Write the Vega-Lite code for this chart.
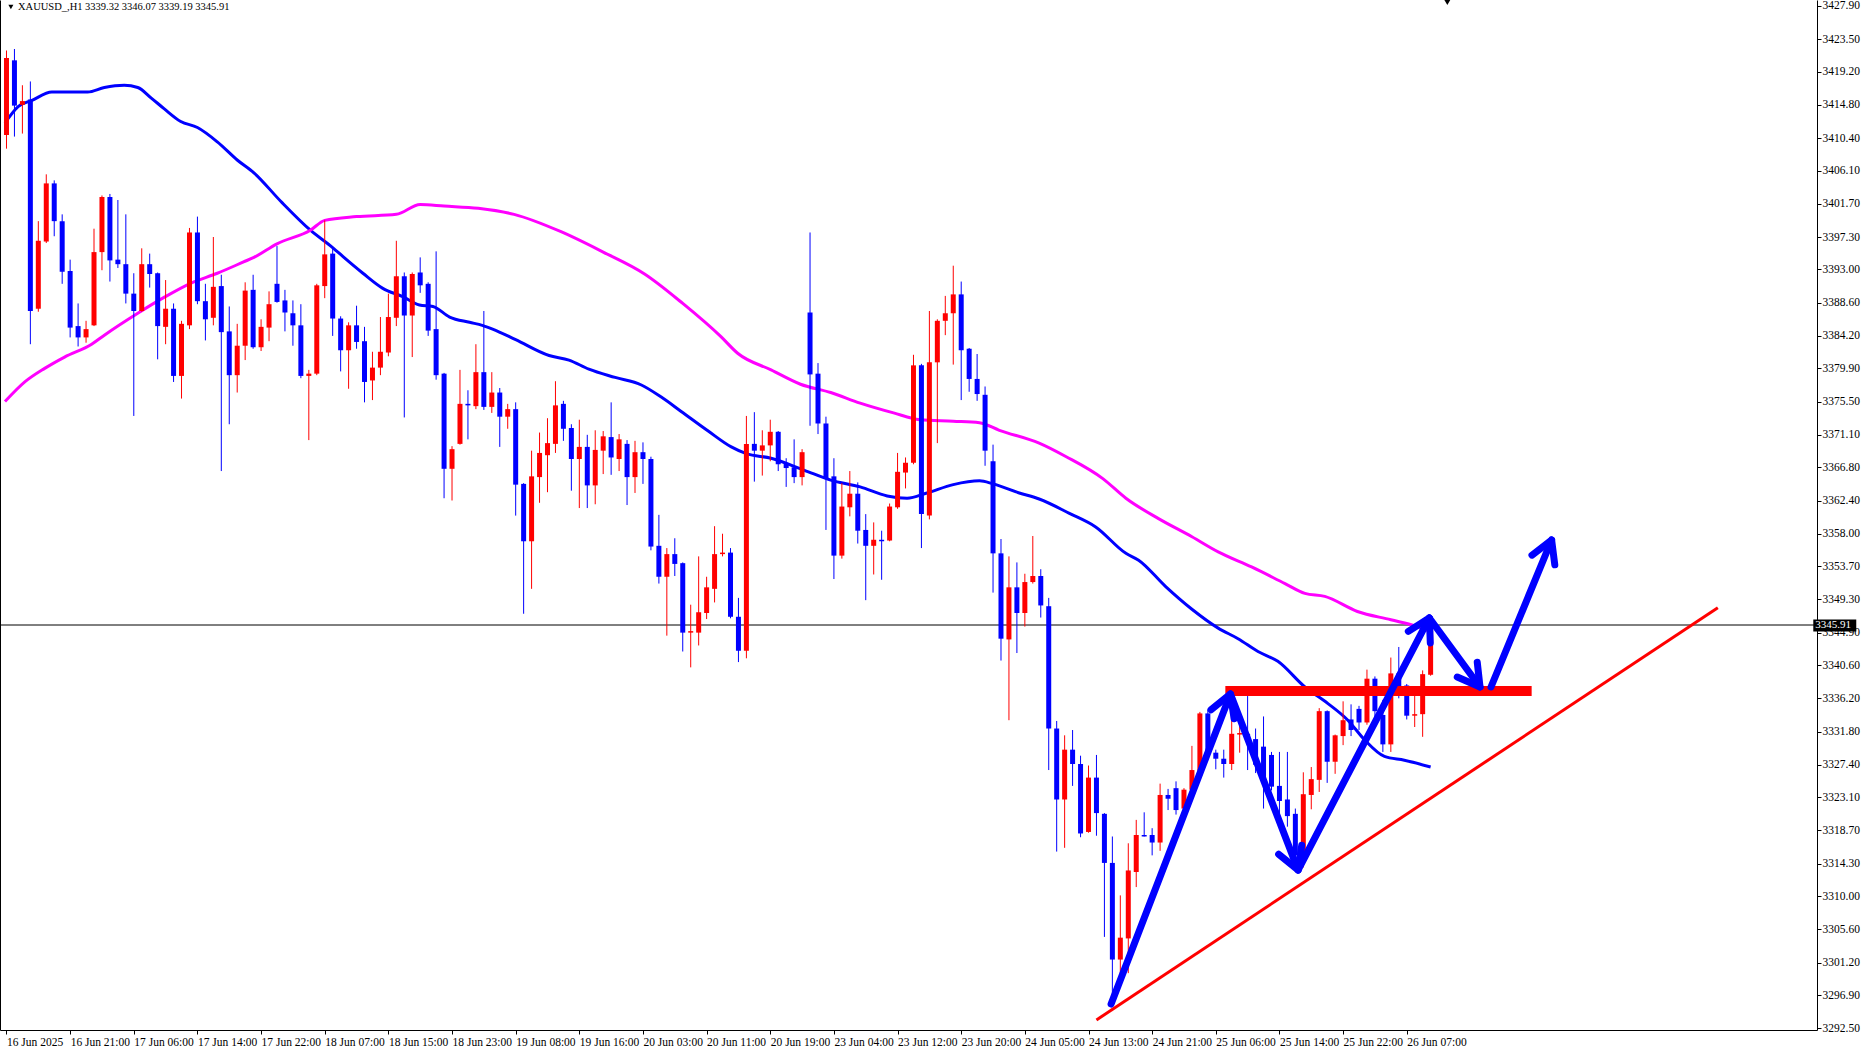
{
 "$schema": "https://vega.github.io/schema/vega-lite/v6.json",
 "width": 1817,
 "height": 1030,
 "autosize": {"type": "none"},
 "padding": {"left": 0, "top": 0, "right": 49, "bottom": 25},
 "background": "white",
 "config": {
  "view": {"stroke": null},
  "font": "Liberation Sans Narrow",
  "axis": {"labelFont": "Liberation Sans Narrow", "labelFontSize": 11.5, "labelColor": "black", "tickColor": "black", "domainColor": "black", "grid": false, "title": null}
 },
 "datasets": {
  "candles": [
   {"i":0,"o":3410.8,"h":3422.0,"l":3409.0,"c":3421.0},
   {"i":1,"o":3420.7,"h":3422.2,"l":3410.6,"c":3414.7},
   {"i":2,"o":3414.8,"h":3417.4,"l":3411.0,"c":3415.3},
   {"i":3,"o":3415.5,"h":3417.9,"l":3383.1,"c":3387.5},
   {"i":4,"o":3387.8,"h":3399.4,"l":3387.4,"c":3396.8},
   {"i":5,"o":3396.7,"h":3405.6,"l":3396.5,"c":3404.4},
   {"i":6,"o":3404.4,"h":3404.8,"l":3397.4,"c":3399.4},
   {"i":7,"o":3399.4,"h":3400.3,"l":3391.1,"c":3392.7},
   {"i":8,"o":3392.8,"h":3394.3,"l":3384.0,"c":3385.3},
   {"i":9,"o":3385.5,"h":3388.5,"l":3382.8,"c":3384.0},
   {"i":10,"o":3384.0,"h":3386.2,"l":3383.3,"c":3385.1},
   {"i":11,"o":3385.6,"h":3398.4,"l":3385.5,"c":3395.3},
   {"i":12,"o":3395.3,"h":3402.8,"l":3392.9,"c":3402.6},
   {"i":13,"o":3402.6,"h":3403.0,"l":3391.4,"c":3394.2},
   {"i":14,"o":3394.3,"h":3402.2,"l":3393.2,"c":3393.7},
   {"i":15,"o":3393.7,"h":3400.3,"l":3388.5,"c":3389.8},
   {"i":16,"o":3389.8,"h":3392.5,"l":3373.6,"c":3387.5},
   {"i":17,"o":3387.5,"h":3395.8,"l":3387.4,"c":3393.7},
   {"i":18,"o":3393.7,"h":3395.1,"l":3390.6,"c":3392.4},
   {"i":19,"o":3392.5,"h":3392.6,"l":3381.1,"c":3385.5},
   {"i":20,"o":3385.4,"h":3391.6,"l":3383.1,"c":3387.8},
   {"i":21,"o":3387.8,"h":3388.5,"l":3378.1,"c":3378.9},
   {"i":22,"o":3378.9,"h":3386.2,"l":3375.9,"c":3385.8},
   {"i":23,"o":3385.6,"h":3398.5,"l":3385.1,"c":3397.9},
   {"i":24,"o":3397.9,"h":3400.0,"l":3388.4,"c":3388.8},
   {"i":25,"o":3388.8,"h":3391.1,"l":3383.6,"c":3386.4},
   {"i":26,"o":3386.6,"h":3397.3,"l":3385.6,"c":3390.7},
   {"i":27,"o":3390.8,"h":3392.3,"l":3366.3,"c":3384.7},
   {"i":28,"o":3384.8,"h":3388.1,"l":3372.5,"c":3379.0},
   {"i":29,"o":3379.0,"h":3385.8,"l":3376.7,"c":3382.9},
   {"i":30,"o":3382.9,"h":3391.3,"l":3381.0,"c":3390.2},
   {"i":31,"o":3390.3,"h":3392.3,"l":3382.5,"c":3382.7},
   {"i":32,"o":3382.7,"h":3386.4,"l":3382.2,"c":3385.4},
   {"i":33,"o":3385.3,"h":3390.1,"l":3383.5,"c":3388.4},
   {"i":34,"o":3391.1,"h":3396.1,"l":3388.6,"c":3388.7},
   {"i":35,"o":3388.9,"h":3390.3,"l":3384.8,"c":3387.3},
   {"i":36,"o":3387.2,"h":3388.9,"l":3382.9,"c":3385.6},
   {"i":37,"o":3385.6,"h":3388.4,"l":3378.6,"c":3378.9},
   {"i":38,"o":3378.9,"h":3379.7,"l":3370.4,"c":3379.2},
   {"i":39,"o":3379.2,"h":3391.1,"l":3379.0,"c":3390.9},
   {"i":40,"o":3390.8,"h":3399.5,"l":3389.2,"c":3395.0},
   {"i":41,"o":3395.1,"h":3396.0,"l":3384.2,"c":3386.5},
   {"i":42,"o":3386.5,"h":3386.8,"l":3379.5,"c":3382.3},
   {"i":43,"o":3382.3,"h":3386.0,"l":3377.2,"c":3385.6},
   {"i":44,"o":3385.6,"h":3388.2,"l":3382.5,"c":3383.4},
   {"i":45,"o":3383.5,"h":3385.4,"l":3375.4,"c":3378.1},
   {"i":46,"o":3378.3,"h":3382.1,"l":3375.7,"c":3380.0},
   {"i":47,"o":3380.0,"h":3386.7,"l":3379.0,"c":3382.1},
   {"i":48,"o":3382.0,"h":3389.8,"l":3381.5,"c":3386.7},
   {"i":49,"o":3386.6,"h":3396.8,"l":3385.5,"c":3392.1},
   {"i":50,"o":3392.1,"h":3392.6,"l":3373.4,"c":3386.9},
   {"i":51,"o":3386.9,"h":3392.6,"l":3381.4,"c":3392.4},
   {"i":52,"o":3392.6,"h":3394.6,"l":3389.9,"c":3390.9},
   {"i":53,"o":3391.1,"h":3391.3,"l":3384.2,"c":3384.9},
   {"i":54,"o":3385.1,"h":3395.4,"l":3378.4,"c":3379.0},
   {"i":55,"o":3379.2,"h":3379.3,"l":3362.7,"c":3366.6},
   {"i":56,"o":3366.6,"h":3369.6,"l":3362.4,"c":3369.2},
   {"i":57,"o":3369.9,"h":3379.7,"l":3369.8,"c":3375.2},
   {"i":58,"o":3375.2,"h":3377.0,"l":3370.5,"c":3375.0},
   {"i":59,"o":3374.9,"h":3383.1,"l":3374.5,"c":3379.4},
   {"i":60,"o":3379.4,"h":3387.5,"l":3374.4,"c":3374.8},
   {"i":61,"o":3374.8,"h":3379.4,"l":3374.0,"c":3376.7},
   {"i":62,"o":3376.7,"h":3377.3,"l":3369.5,"c":3373.5},
   {"i":63,"o":3373.5,"h":3375.2,"l":3371.9,"c":3374.5},
   {"i":64,"o":3374.5,"h":3375.4,"l":3360.4,"c":3364.5},
   {"i":65,"o":3364.6,"h":3364.7,"l":3347.4,"c":3357.0},
   {"i":66,"o":3357.0,"h":3369.0,"l":3350.7,"c":3365.6},
   {"i":67,"o":3365.5,"h":3371.4,"l":3362.1,"c":3368.7},
   {"i":68,"o":3368.4,"h":3373.3,"l":3363.5,"c":3370.0},
   {"i":69,"o":3369.9,"h":3378.2,"l":3368.7,"c":3375.0},
   {"i":70,"o":3375.2,"h":3375.6,"l":3370.3,"c":3371.9},
   {"i":71,"o":3372.0,"h":3372.5,"l":3363.7,"c":3367.9},
   {"i":72,"o":3367.9,"h":3373.1,"l":3361.4,"c":3369.5},
   {"i":73,"o":3369.5,"h":3371.1,"l":3361.4,"c":3364.4},
   {"i":74,"o":3364.4,"h":3371.7,"l":3361.9,"c":3369.1},
   {"i":75,"o":3369.0,"h":3371.6,"l":3365.9,"c":3370.9},
   {"i":76,"o":3370.8,"h":3375.4,"l":3365.8,"c":3368.1},
   {"i":77,"o":3367.9,"h":3371.2,"l":3366.3,"c":3370.5},
   {"i":78,"o":3369.9,"h":3370.4,"l":3361.8,"c":3365.5},
   {"i":79,"o":3365.5,"h":3370.3,"l":3363.4,"c":3368.8},
   {"i":80,"o":3368.8,"h":3370.1,"l":3364.6,"c":3367.9},
   {"i":81,"o":3367.9,"h":3368.2,"l":3355.8,"c":3356.3},
   {"i":82,"o":3356.4,"h":3360.5,"l":3351.4,"c":3352.3},
   {"i":83,"o":3352.3,"h":3356.1,"l":3344.5,"c":3355.3},
   {"i":84,"o":3355.3,"h":3357.4,"l":3352.4,"c":3354.0},
   {"i":85,"o":3354.1,"h":3354.2,"l":3342.4,"c":3344.9},
   {"i":86,"o":3344.9,"h":3348.6,"l":3340.3,"c":3345.1},
   {"i":87,"o":3344.9,"h":3355.0,"l":3343.2,"c":3347.6},
   {"i":88,"o":3347.5,"h":3352.3,"l":3346.7,"c":3350.9},
   {"i":89,"o":3350.7,"h":3359.0,"l":3348.9,"c":3355.3},
   {"i":90,"o":3355.3,"h":3358.0,"l":3355.0,"c":3355.5},
   {"i":91,"o":3355.5,"h":3356.1,"l":3346.8,"c":3347.0},
   {"i":92,"o":3347.0,"h":3349.5,"l":3341.0,"c":3342.5},
   {"i":93,"o":3342.5,"h":3373.6,"l":3341.5,"c":3369.9},
   {"i":94,"o":3369.9,"h":3374.1,"l":3364.9,"c":3369.0},
   {"i":95,"o":3369.0,"h":3371.7,"l":3365.7,"c":3369.7},
   {"i":96,"o":3369.7,"h":3373.1,"l":3367.6,"c":3371.5},
   {"i":97,"o":3371.5,"h":3371.6,"l":3366.3,"c":3367.2},
   {"i":98,"o":3367.3,"h":3368.0,"l":3364.2,"c":3366.7},
   {"i":99,"o":3366.8,"h":3370.5,"l":3364.7,"c":3365.5},
   {"i":100,"o":3365.5,"h":3369.2,"l":3364.4,"c":3368.8},
   {"i":101,"o":3387.3,"h":3397.9,"l":3372.3,"c":3379.1},
   {"i":102,"o":3379.2,"h":3380.6,"l":3371.2,"c":3372.6},
   {"i":103,"o":3372.6,"h":3373.5,"l":3358.5,"c":3365.3},
   {"i":104,"o":3365.6,"h":3368.0,"l":3352.0,"c":3355.1},
   {"i":105,"o":3355.1,"h":3364.7,"l":3354.7,"c":3361.6},
   {"i":106,"o":3361.5,"h":3366.3,"l":3360.3,"c":3363.3},
   {"i":107,"o":3363.3,"h":3364.8,"l":3356.7,"c":3358.4},
   {"i":108,"o":3358.5,"h":3360.6,"l":3349.2,"c":3356.4},
   {"i":109,"o":3356.4,"h":3359.5,"l":3352.6,"c":3357.2},
   {"i":110,"o":3357.2,"h":3358.4,"l":3351.9,"c":3357.0},
   {"i":111,"o":3357.1,"h":3362.0,"l":3357.0,"c":3361.6},
   {"i":112,"o":3361.5,"h":3368.7,"l":3361.3,"c":3366.2},
   {"i":113,"o":3366.1,"h":3368.1,"l":3364.0,"c":3367.4},
   {"i":114,"o":3367.4,"h":3381.7,"l":3367.2,"c":3380.3},
   {"i":115,"o":3380.3,"h":3380.5,"l":3356.1,"c":3360.6},
   {"i":116,"o":3360.4,"h":3387.5,"l":3359.9,"c":3380.7},
   {"i":117,"o":3380.7,"h":3386.4,"l":3370.0,"c":3386.2},
   {"i":118,"o":3386.2,"h":3389.5,"l":3384.3,"c":3387.2},
   {"i":119,"o":3387.2,"h":3393.5,"l":3380.4,"c":3389.7},
   {"i":120,"o":3389.7,"h":3391.4,"l":3375.7,"c":3382.3},
   {"i":121,"o":3382.5,"h":3382.6,"l":3376.8,"c":3378.5},
   {"i":122,"o":3378.5,"h":3381.8,"l":3375.6,"c":3376.5},
   {"i":123,"o":3376.4,"h":3377.5,"l":3367.0,"c":3369.0},
   {"i":124,"o":3367.6,"h":3369.8,"l":3350.2,"c":3355.4},
   {"i":125,"o":3355.4,"h":3357.3,"l":3341.2,"c":3344.1},
   {"i":126,"o":3344.0,"h":3355.0,"l":3333.3,"c":3350.9},
   {"i":127,"o":3350.9,"h":3354.2,"l":3342.2,"c":3347.5},
   {"i":128,"o":3347.5,"h":3352.7,"l":3345.7,"c":3351.6},
   {"i":129,"o":3351.6,"h":3357.7,"l":3351.4,"c":3352.4},
   {"i":130,"o":3352.4,"h":3353.3,"l":3346.9,"c":3348.5},
   {"i":131,"o":3348.4,"h":3349.5,"l":3326.7,"c":3332.2},
   {"i":132,"o":3332.2,"h":3333.2,"l":3315.9,"c":3322.8},
   {"i":133,"o":3322.8,"h":3331.3,"l":3316.4,"c":3329.4},
   {"i":134,"o":3329.4,"h":3332.0,"l":3324.6,"c":3327.5},
   {"i":135,"o":3327.5,"h":3328.6,"l":3317.8,"c":3318.3},
   {"i":136,"o":3318.5,"h":3327.3,"l":3318.4,"c":3325.7},
   {"i":137,"o":3325.7,"h":3328.7,"l":3318.0,"c":3321.0},
   {"i":138,"o":3320.9,"h":3321.0,"l":3304.6,"c":3314.4},
   {"i":139,"o":3314.4,"h":3317.9,"l":3296.2,"c":3301.6},
   {"i":140,"o":3301.6,"h":3310.1,"l":3299.8,"c":3304.5},
   {"i":141,"o":3304.4,"h":3317.0,"l":3299.8,"c":3313.4},
   {"i":142,"o":3313.2,"h":3320.1,"l":3311.2,"c":3318.1},
   {"i":143,"o":3318.1,"h":3321.1,"l":3317.9,"c":3317.9},
   {"i":144,"o":3318.1,"h":3319.0,"l":3315.4,"c":3317.1},
   {"i":145,"o":3317.1,"h":3324.9,"l":3316.0,"c":3323.4},
   {"i":146,"o":3323.4,"h":3324.2,"l":3321.4,"c":3322.9},
   {"i":147,"o":3324.3,"h":3325.2,"l":3320.8,"c":3321.4},
   {"i":148,"o":3321.6,"h":3324.3,"l":3321.4,"c":3324.1},
   {"i":149,"o":3324.1,"h":3329.9,"l":3323.8,"c":3326.7},
   {"i":150,"o":3326.6,"h":3334.4,"l":3326.5,"c":3334.2},
   {"i":151,"o":3334.2,"h":3334.7,"l":3328.0,"c":3328.9},
   {"i":152,"o":3329.0,"h":3329.4,"l":3326.8,"c":3328.2},
   {"i":153,"o":3328.2,"h":3329.4,"l":3325.7,"c":3327.5},
   {"i":154,"o":3327.5,"h":3333.5,"l":3326.7,"c":3331.5},
   {"i":155,"o":3331.4,"h":3333.0,"l":3329.0,"c":3331.6},
   {"i":156,"o":3331.5,"h":3336.5,"l":3326.7,"c":3330.7},
   {"i":157,"o":3330.8,"h":3332.2,"l":3326.3,"c":3327.4},
   {"i":158,"o":3329.8,"h":3333.8,"l":3321.6,"c":3325.0},
   {"i":159,"o":3328.7,"h":3329.1,"l":3324.0,"c":3324.5},
   {"i":160,"o":3324.6,"h":3329.1,"l":3320.4,"c":3322.6},
   {"i":161,"o":3322.8,"h":3329.1,"l":3319.2,"c":3320.6},
   {"i":162,"o":3320.9,"h":3321.6,"l":3313.5,"c":3315.4},
   {"i":163,"o":3315.2,"h":3326.4,"l":3313.8,"c":3323.5},
   {"i":164,"o":3323.4,"h":3327.1,"l":3321.5,"c":3325.5},
   {"i":165,"o":3325.4,"h":3334.9,"l":3323.8,"c":3334.5},
   {"i":166,"o":3334.5,"h":3334.6,"l":3325.0,"c":3327.8},
   {"i":167,"o":3327.8,"h":3331.4,"l":3326.2,"c":3331.3},
   {"i":168,"o":3331.2,"h":3335.8,"l":3330.0,"c":3333.3},
   {"i":169,"o":3333.4,"h":3335.4,"l":3331.2,"c":3332.0},
   {"i":170,"o":3334.8,"h":3335.2,"l":3332.0,"c":3333.0},
   {"i":171,"o":3333.0,"h":3340.0,"l":3332.7,"c":3338.8},
   {"i":172,"o":3338.8,"h":3339.1,"l":3333.0,"c":3334.5},
   {"i":173,"o":3334.0,"h":3336.0,"l":3329.1,"c":3330.1},
   {"i":174,"o":3330.1,"h":3341.6,"l":3329.1,"c":3339.5},
   {"i":175,"o":3339.5,"h":3343.0,"l":3336.2,"c":3337.7},
   {"i":176,"o":3337.9,"h":3338.1,"l":3333.4,"c":3333.9},
   {"i":177,"o":3333.9,"h":3337.8,"l":3332.4,"c":3334.1},
   {"i":178,"o":3334.1,"h":3339.9,"l":3331.1,"c":3339.4},
   {"i":179,"o":3339.32,"h":3346.07,"l":3339.19,"c":3345.91}
  ],
  "ma": [
   {"s":"b","i":-0.19,"p":3412.4},{"s":"b","i":1.5,"p":3414.6},{"s":"b","i":3.2,"p":3415.4},{"s":"b","i":5.7,"p":3416.5},{"s":"b","i":10.2,"p":3416.5},{"s":"b","i":12.3,"p":3417.1},{"s":"b","i":14.8,"p":3417.4},{"s":"b","i":16.5,"p":3417.1},{"s":"b","i":18.2,"p":3415.7},{"s":"b","i":19.8,"p":3414.3},{"s":"b","i":21.9,"p":3412.6},{"s":"b","i":24,"p":3411.8},{"s":"b","i":26.5,"p":3409.9},{"s":"b","i":29,"p":3407.5},{"s":"b","i":31.1,"p":3405.8},{"s":"b","i":34.5,"p":3402.0},{"s":"b","i":38.2,"p":3398.2},{"s":"b","i":41.1,"p":3395.8},{"s":"b","i":42.3,"p":3394.7},{"s":"b","i":44.8,"p":3392.5},{"s":"b","i":47.3,"p":3390.5},{"s":"b","i":49.8,"p":3389.4},{"s":"b","i":51.9,"p":3388.3},{"s":"b","i":53.6,"p":3388.1},{"s":"b","i":55.7,"p":3386.7},{"s":"b","i":58.2,"p":3386.0},{"s":"b","i":59.8,"p":3385.6},{"s":"b","i":61.1,"p":3385.1},{"s":"b","i":64,"p":3383.7},{"s":"b","i":68.2,"p":3381.6},{"s":"b","i":70.7,"p":3381.0},{"s":"b","i":73.2,"p":3379.8},{"s":"b","i":76.5,"p":3378.7},{"s":"b","i":79.8,"p":3377.7},{"s":"b","i":82.3,"p":3376.1},{"s":"b","i":84.8,"p":3374.2},{"s":"b","i":88.2,"p":3371.6},{"s":"b","i":91.1,"p":3369.5},{"s":"b","i":93.0,"p":3368.6},{"s":"b","i":96.1,"p":3368.0},{"s":"b","i":100.3,"p":3366.4},{"s":"b","i":103.6,"p":3365.1},{"s":"b","i":107.3,"p":3364.2},{"s":"b","i":110.7,"p":3363.0},{"s":"b","i":113.2,"p":3362.7},{"s":"b","i":115.7,"p":3363.4},{"s":"b","i":119,"p":3364.5},{"s":"b","i":122.3,"p":3365.0},{"s":"b","i":124,"p":3364.6},{"s":"b","i":127.3,"p":3363.4},{"s":"b","i":129.8,"p":3362.6},{"s":"b","i":133.6,"p":3360.7},{"s":"b","i":136.9,"p":3358.9},{"s":"b","i":140.7,"p":3355.4},{"s":"b","i":142.3,"p":3354.5},{"s":"b","i":145.7,"p":3351.0},{"s":"b","i":149,"p":3348.0},{"s":"b","i":152.3,"p":3345.5},{"s":"b","i":154.8,"p":3344.1},{"s":"b","i":157.3,"p":3342.4},{"s":"b","i":159.8,"p":3341.1},{"s":"b","i":163.2,"p":3337.7},{"s":"b","i":166.1,"p":3335.5},{"s":"b","i":168.6,"p":3333.3},{"s":"b","i":170.7,"p":3330.7},{"s":"b","i":173.2,"p":3328.5},{"s":"b","i":175.7,"p":3328.0},{"s":"b","i":179,"p":3327.1},
   {"s":"m","i":-0.19,"p":3375.5},{"s":"m","i":2.3,"p":3378.1},{"s":"m","i":4.8,"p":3379.9},{"s":"m","i":7.3,"p":3381.4},{"s":"m","i":10.7,"p":3383.1},{"s":"m","i":12.3,"p":3384.3},{"s":"m","i":16.5,"p":3387.2},{"s":"m","i":19.8,"p":3389.3},{"s":"m","i":23.2,"p":3391.2},{"s":"m","i":26.5,"p":3392.5},{"s":"m","i":29.8,"p":3394.0},{"s":"m","i":31.1,"p":3394.6},{"s":"m","i":34,"p":3396.4},{"s":"m","i":38.2,"p":3398.2},{"s":"m","i":40,"p":3399.5},{"s":"m","i":44,"p":3400.0},{"s":"m","i":49,"p":3400.3},{"s":"m","i":52,"p":3401.6},{"s":"m","i":55,"p":3401.4},{"s":"m","i":59.3,"p":3401.1},{"s":"m","i":63.8,"p":3400.3},{"s":"m","i":69.7,"p":3398.0},{"s":"m","i":75,"p":3395.3},{"s":"m","i":80.2,"p":3392.4},{"s":"m","i":85,"p":3388.5},{"s":"m","i":89.8,"p":3384.1},{"s":"m","i":91.9,"p":3381.9},{"s":"m","i":96.1,"p":3379.7},{"s":"m","i":99.8,"p":3377.8},{"s":"m","i":103.6,"p":3376.7},{"s":"m","i":107.3,"p":3375.3},{"s":"m","i":111.5,"p":3374.0},{"s":"m","i":114.8,"p":3373.1},{"s":"m","i":119,"p":3372.9},{"s":"m","i":122.3,"p":3372.7},{"s":"m","i":124.8,"p":3371.7},{"s":"m","i":129.8,"p":3370.0},{"s":"m","i":133.2,"p":3368.2},{"s":"m","i":137.8,"p":3365.3},{"s":"m","i":140.7,"p":3362.7},{"s":"m","i":144.8,"p":3360.0},{"s":"m","i":149,"p":3357.6},{"s":"m","i":152.3,"p":3355.6},{"s":"m","i":156.5,"p":3353.6},{"s":"m","i":160.7,"p":3351.4},{"s":"m","i":163.2,"p":3350.1},{"s":"m","i":165.7,"p":3349.7},{"s":"m","i":169.8,"p":3347.7},{"s":"m","i":174,"p":3346.6},{"s":"m","i":177.3,"p":3345.7},{"s":"m","i":179,"p":3345.0}
  ],
  "arrows": [
   {"g":"a1","k":0,"i":138.84,"p":3295.71},{"g":"a1","k":1,"i":153.84,"p":3336.77},
   {"g":"h1","k":0,"i":151.4,"p":3334.69},{"g":"h1","k":1,"i":153.84,"p":3336.77},{"g":"h1","k":2,"i":154.3,"p":3333.5},
   {"g":"a2","k":0,"i":153.84,"p":3336.77},{"g":"a2","k":1,"i":162.34,"p":3313.46},
   {"g":"h2","k":0,"i":162.8,"p":3316.73},{"g":"h2","k":1,"i":162.34,"p":3313.46},{"g":"h2","k":2,"i":159.9,"p":3315.54},
   {"g":"a3","k":0,"i":162.34,"p":3313.46},{"g":"a3","k":1,"i":178.84,"p":3346.84},
   {"g":"h3","k":0,"i":176.2,"p":3345.06},{"g":"h3","k":1,"i":178.84,"p":3346.84},{"g":"h3","k":2,"i":178.96,"p":3343.53},
   {"g":"a4","k":0,"i":178.84,"p":3346.84},{"g":"a4","k":1,"i":185.21,"p":3337.7},
   {"g":"h4","k":0,"i":184.86,"p":3340.98},{"g":"h4","k":1,"i":185.21,"p":3337.7},{"g":"h4","k":2,"i":182.35,"p":3339.02},
   {"g":"a5","k":0,"i":186.59,"p":3337.7},{"g":"a5","k":1,"i":194.21,"p":3357.17},
   {"g":"h5","k":0,"i":191.74,"p":3355.16},{"g":"h5","k":1,"i":194.21,"p":3357.17},{"g":"h5","k":2,"i":194.61,"p":3353.88}
  ],
  "trend": [{"k":0,"i":137.0,"p":3293.6},{"k":1,"i":215.1,"p":3348.2}],
  "level": [{"k":0,"i":153.2,"p":3337.17},{"k":1,"i":191.7,"p":3337.17}],
  "price": [{"p":3345.91,"i1":227.1,"i2":232.5,"p1":3346.64,"p2":3345.05,"it":227.35,"t":"3345.91"}],
  "head": [{"i":1.45,"p":3427.76,"t":"XAUUSD_,H1  3339.32 3346.07 3339.19 3345.91","ti":0.55,"mi":181.1,"mp":3428.4}]
 },
 "resolve": {"axis": {"x": "independent", "y": "independent"}},
 "layer": [
  {
   "data": {"name": "price"},
   "mark": {"type": "rule", "color": "black", "strokeWidth": 1},
   "encoding": {
    "y": {"field": "p", "type": "quantitative", "scale": {"domain": [3292.27, 3428.69], "nice": false, "zero": false},
          "axis": {"orient": "left", "labels": false, "ticks": false, "domain": true, "domainColor": "black", "domainWidth": 1}}
   }
  },
  {
   "data": {"name": "ma"},
   "mark": {"type": "line", "strokeWidth": 3, "interpolate": "monotone"},
   "encoding": {
    "x": {"field": "i", "type": "quantitative", "scale": {"domain": [-0.1875, 226.9375], "nice": false, "zero": false}, "axis": null},
    "y": {"field": "p", "type": "quantitative", "scale": {"domain": [3292.27, 3428.69], "nice": false, "zero": false}, "axis": null},
    "color": {"field": "s", "type": "nominal", "scale": {"domain": ["b", "m"], "range": ["#0000ff", "#ff00ff"]}, "legend": null},
    "detail": {"field": "s"}
   }
  },
  {
   "data": {"name": "candles"},
   "mark": {"type": "rule", "strokeWidth": 1},
   "encoding": {
    "x": {"field": "i", "type": "quantitative", "scale": {"domain": [-0.1875, 226.9375], "nice": false, "zero": false}, "axis": null},
    "y": {"field": "l", "type": "quantitative", "scale": {"domain": [3292.27, 3428.69], "nice": false, "zero": false}, "axis": null},
    "y2": {"field": "h"},
    "color": {"condition": {"test": "datum.c >= datum.o", "value": "#ff0000"}, "value": "#0000ff"}
   }
  },
  {
   "data": {"name": "candles"},
   "mark": {"type": "bar", "width": 5},
   "encoding": {
    "x": {"field": "i", "type": "quantitative", "scale": {"domain": [-0.1875, 226.9375], "nice": false, "zero": false},
          "axis": {"orient": "bottom", "values": [0,8,16,24,32,40,48,56,64,72,80,88,96,104,112,120,128,136,144,152,160,168,176],
                   "labelExpr": "['16 Jun 2025','16 Jun 21:00','17 Jun 06:00','17 Jun 14:00','17 Jun 22:00','18 Jun 07:00','18 Jun 15:00','18 Jun 23:00','19 Jun 08:00','19 Jun 16:00','20 Jun 03:00','20 Jun 11:00','20 Jun 19:00','23 Jun 04:00','23 Jun 12:00','23 Jun 20:00','24 Jun 05:00','24 Jun 13:00','24 Jun 21:00','25 Jun 06:00','25 Jun 14:00','25 Jun 22:00','26 Jun 07:00'][round(datum.value/8)]",
                   "labelAlign": "left", "labelDx": 0, "labelPadding": 2, "tickSize": 4, "labelOverlap": false, "labelFlush": false, "domain": true}},
    "y": {"field": "o", "type": "quantitative", "scale": {"domain": [3292.27, 3428.69], "nice": false, "zero": false},
          "axis": {"orient": "right", "values": [3427.9,3423.5,3419.2,3414.8,3410.4,3406.1,3401.7,3397.3,3393.0,3388.6,3384.2,3379.9,3375.5,3371.1,3366.8,3362.4,3358.0,3353.7,3349.3,3344.9,3340.6,3336.2,3331.8,3327.4,3323.1,3318.7,3314.3,3310.0,3305.6,3301.2,3296.9,3292.5],
                   "format": ".2f", "tickSize": 4, "labelPadding": 1, "labelOverlap": false, "labelFlush": false, "domain": true}},
    "y2": {"field": "c"},
    "color": {"condition": {"test": "datum.c >= datum.o", "value": "#ff0000"}, "value": "#0000ff"}
   }
  },
  {
   "data": {"name": "trend"},
   "mark": {"type": "line", "color": "#ff0000", "strokeWidth": 3},
   "encoding": {
    "x": {"field": "i", "type": "quantitative", "scale": {"domain": [-0.1875, 226.9375], "nice": false, "zero": false}, "axis": null},
    "y": {"field": "p", "type": "quantitative", "scale": {"domain": [3292.27, 3428.69], "nice": false, "zero": false}, "axis": null},
    "order": {"field": "k"}
   }
  },
  {
   "data": {"name": "level"},
   "mark": {"type": "line", "color": "#ff0000", "strokeWidth": 10, "strokeCap": "butt"},
   "encoding": {
    "x": {"field": "i", "type": "quantitative", "scale": {"domain": [-0.1875, 226.9375], "nice": false, "zero": false}, "axis": null},
    "y": {"field": "p", "type": "quantitative", "scale": {"domain": [3292.27, 3428.69], "nice": false, "zero": false}, "axis": null},
    "order": {"field": "k"}
   }
  },
  {
   "data": {"name": "arrows"},
   "mark": {"type": "line", "color": "#0000ff", "strokeWidth": 7, "strokeCap": "round", "strokeJoin": "round"},
   "encoding": {
    "x": {"field": "i", "type": "quantitative", "scale": {"domain": [-0.1875, 226.9375], "nice": false, "zero": false}, "axis": null},
    "y": {"field": "p", "type": "quantitative", "scale": {"domain": [3292.27, 3428.69], "nice": false, "zero": false}, "axis": null},
    "detail": {"field": "g"},
    "order": {"field": "k"}
   }
  },
  {
   "data": {"name": "price"},
   "mark": {"type": "rect", "color": "black"},
   "encoding": {
    "x": {"field": "i1", "type": "quantitative", "scale": {"domain": [-0.1875, 226.9375], "nice": false, "zero": false}, "axis": null},
    "x2": {"field": "i2"},
    "y": {"field": "p1", "type": "quantitative", "scale": {"domain": [3292.27, 3428.69], "nice": false, "zero": false}, "axis": null},
    "y2": {"field": "p2"}
   }
  },
  {
   "data": {"name": "price"},
   "mark": {"type": "text", "color": "white", "align": "left", "baseline": "middle", "fontSize": 11, "font": "Liberation Sans Narrow"},
   "encoding": {
    "x": {"field": "it", "type": "quantitative", "scale": {"domain": [-0.1875, 226.9375], "nice": false, "zero": false}, "axis": null},
    "y": {"field": "p", "type": "quantitative", "scale": {"domain": [3292.27, 3428.69], "nice": false, "zero": false}, "axis": null},
    "text": {"field": "t"}
   }
  },
  {
   "data": {"name": "head"},
   "mark": {"type": "text", "color": "black", "align": "left", "baseline": "middle", "fontSize": 10.5, "font": "Liberation Sans Narrow"},
   "encoding": {
    "x": {"field": "i", "type": "quantitative", "scale": {"domain": [-0.1875, 226.9375], "nice": false, "zero": false}, "axis": null},
    "y": {"field": "p", "type": "quantitative", "scale": {"domain": [3292.27, 3428.69], "nice": false, "zero": false}, "axis": null},
    "text": {"field": "t"}
   }
  },
  {
   "data": {"name": "head"},
   "mark": {"type": "point", "shape": "triangle-down", "filled": true, "color": "black", "size": 25, "opacity": 1},
   "encoding": {
    "x": {"field": "ti", "type": "quantitative", "scale": {"domain": [-0.1875, 226.9375], "nice": false, "zero": false}, "axis": null},
    "y": {"field": "p", "type": "quantitative", "scale": {"domain": [3292.27, 3428.69], "nice": false, "zero": false}, "axis": null}
   }
  },
  {
   "data": {"name": "head"},
   "mark": {"type": "point", "shape": "triangle-down", "filled": true, "color": "black", "size": 45, "opacity": 1},
   "encoding": {
    "x": {"field": "mi", "type": "quantitative", "scale": {"domain": [-0.1875, 226.9375], "nice": false, "zero": false}, "axis": null},
    "y": {"field": "mp", "type": "quantitative", "scale": {"domain": [3292.27, 3428.69], "nice": false, "zero": false}, "axis": null}
   }
  }
 ]
}
